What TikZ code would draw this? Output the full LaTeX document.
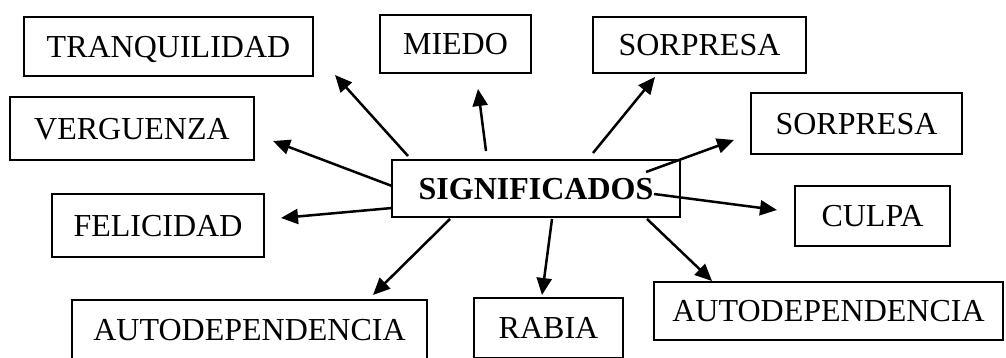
\documentclass[tikz,border=0pt]{standalone}
\usepackage{fontspec}
\setmainfont{Liberation Serif}
\usetikzlibrary{arrows.meta,calc}
\begin{document}
\begin{tikzpicture}[x=1pt,y=-1pt,
  box/.style={draw,line width=2.2pt,inner sep=0pt,outer sep=0pt,
    font=\fontsize{32}{38}\selectfont,text height=21.5pt,text depth=0pt},
  arr/.style={line width=2.5pt,-{Triangle[length=17pt,width=15pt]}}]
\useasboundingbox (0,0) rectangle (1006,358);
% boxes
\node[box,minimum width=289pt,minimum height=59pt] (tranq) at (168.5,46.5) {TRANQUILIDAD};
\node[box,minimum width=244pt,minimum height=63pt] (verg) at (132,128.5) {VERGUENZA\hspace{7pt}};
\node[box,minimum width=151pt,minimum height=58pt] (miedo) at (455.5,44) {MIEDO\hspace{6pt}};
\node[box,minimum width=213pt,minimum height=56pt] (sorpA) at (699.5,45) {SORPRESA\hspace{13pt}};
\node[box,minimum width=211pt,minimum height=61pt] (sorpB) at (856.5,123.5) {SORPRESA\hspace{7pt}};
\node[box,minimum width=288pt,minimum height=57pt,font=\fontsize{32}{38}\selectfont\bfseries] (sig) at (536,188.5) {SIGNIFICADOS\hspace{14pt}};
\node[box,minimum width=155pt,minimum height=60pt] (culpa) at (872.5,216) {CULPA\hspace{8pt}};
\node[box,minimum width=212pt,minimum height=63pt] (fel) at (158,225.5) {FELICIDAD\hspace{3pt}};
\node[box,minimum width=355pt,minimum height=60pt] (autoL) at (249.5,330) {AUTODEPENDENCIA\hspace{4pt}};
\node[box,minimum width=149pt,minimum height=60pt] (rabia) at (548.5,328) {RABIA\hspace{9pt}};
\node[box,minimum width=349pt,minimum height=58pt] (autoR) at (828.5,311) {AUTODEPENDENCIA};
% arrows
\draw[arr] ($(sig.north west)+(16,-4)$) -- ($(tranq.south east)+(22,-1)$);
\draw[arr] ($(sig.north west)+(94,-9)$) -- ($(miedo.south west)+(98,16)$);
\draw[arr] ($(sig.north west)+(201,-7)$) -- ($(sorpA.south west)+(62,4)$);
\draw[arr] ($(sig.north east)+(-34,12)$) -- ($(sorpB.south west)+(-17,-14)$);
\draw[arr] ($(sig.north east)+(-26,34)$) -- ($(culpa.north west)+(-18,24)$);
\draw[arr] ($(sig.south east)+(-33,2)$) -- ($(autoR.north west)+(58,-1)$);
\draw[arr] ($(sig.south west)+(160,2)$) -- ($(rabia.north west)+(68,-3)$);
\draw[arr] ($(sig.south west)+(58,2)$) -- ($(autoL.north east)+(-54,-5)$);
\draw[arr] ($(sig.south west)+(0,-9)$) -- ($(fel.north east)+(17,24)$);
\draw[arr] ($(sig.north west)+(0,26)$) -- ($(verg.south east)+(19,-19)$);
\end{tikzpicture}
\end{document}
